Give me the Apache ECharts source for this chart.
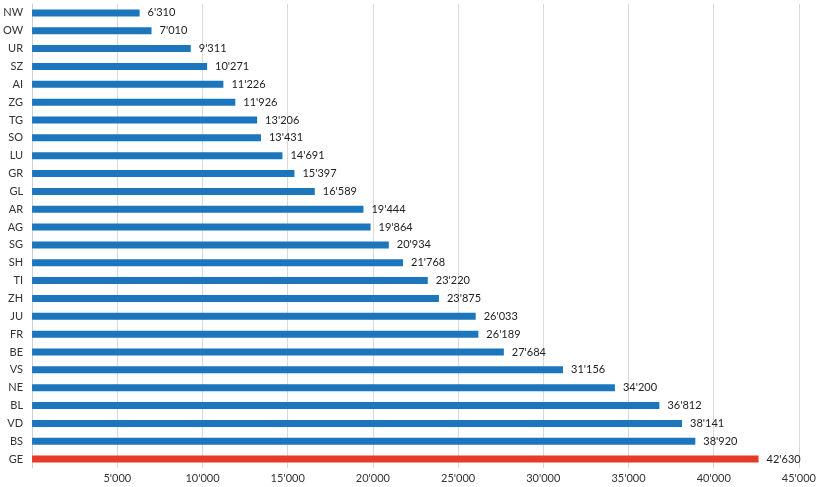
<!DOCTYPE html>
<html>
<head>
<meta charset="utf-8">
<script src="https://cdn.jsdelivr.net/npm/echarts@6/dist/echarts.min.js"></script>
<style>
  html, body { margin: 0; padding: 0; background: #fff; }
  #chart { width: 819px; height: 487px; }
</style>
</head>
<body>
<div id="chart"></div>
<script>
// Cantons, listed top to bottom
const cantons = ['NW','OW','UR','SZ','AI','ZG','TG','SO','LU','GR','GL','AR','AG','SG','SH','TI','ZH','JU','FR','BE','VS','NE','BL','VD','BS','GE'];
const values = [6310,7010,9311,10271,11226,11926,13206,13431,14691,15397,16589,19444,19864,20934,21768,23220,23875,26033,26189,27684,31156,34200,36812,38141,38920,42630];
const highlighted = 'GE';
const xTicks = [0,5000,10000,15000,20000,25000,30000,35000,40000,45000];

const BLUE = '#1b76bd';
const RED = '#e63b25';
const FONT = 'Lato, "Open Sans", sans-serif';

function swiss(n) {
  return String(n).replace(/\B(?=(\d{3})+(?!\d))/g, "'");
}

const chart = echarts.init(document.getElementById('chart'), null, { renderer: 'canvas' });
chart.setOption({
  animation: false,
  backgroundColor: '#fff',
  grid: { left: 32, right: 15, top: 4, bottom: 19, containLabel: false },
  xAxis: {
    type: 'value',
    min: xTicks[0],
    max: xTicks[xTicks.length - 1],
    interval: 5000,
    axisLine: { show: false },
    axisTick: { show: false },
    splitLine: { show: true, lineStyle: { color: '#d9d9d9', width: 1 } },
    axisLabel: {
      margin: 5,
      color: '#333',
      fontFamily: FONT,
      fontSize: 11,
      formatter: v => v === 0 ? '' : swiss(v)
    }
  },
  yAxis: {
    type: 'category',
    inverse: true,
    data: cantons,
    axisLine: { show: true, lineStyle: { color: '#cfcfcf', width: 1 } },
    axisTick: { show: false },
    axisLabel: { margin: 9, color: '#333', fontFamily: FONT, fontSize: 11 }
  },
  series: [{
    type: 'bar',
    data: values.map((v, i) => ({
      value: v,
      itemStyle: { color: cantons[i] === highlighted ? RED : BLUE }
    })),
    barWidth: 7,
    label: {
      show: true,
      position: 'right',
      distance: 8,
      color: '#222',
      fontFamily: FONT,
      fontSize: 11,
      formatter: p => swiss(p.value)
    }
  }]
});
</script>
</body>
</html>
